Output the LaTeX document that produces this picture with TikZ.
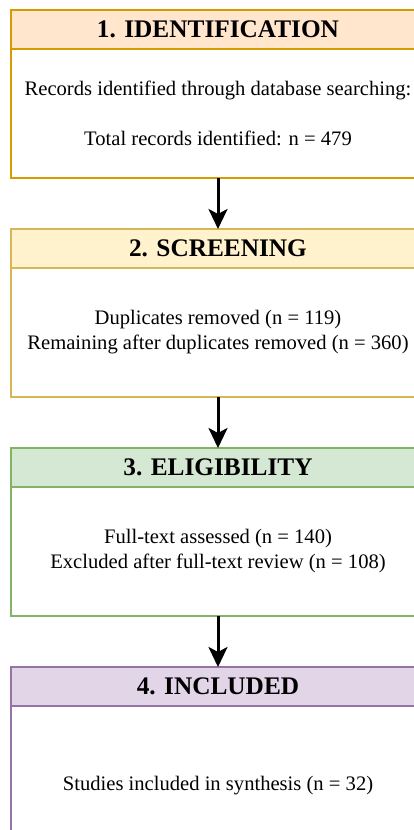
\documentclass[tikz,border=0pt]{standalone}
\usepackage{fontspec}
\setmainfont{Liberation Serif}
\usetikzlibrary{arrows.meta, positioning}

\definecolor{idfill}{HTML}{FFE6CC}
\definecolor{idline}{HTML}{D79B00}
\definecolor{scrfill}{HTML}{FFF2CC}
\definecolor{scrline}{HTML}{D6B656}
\definecolor{elfill}{HTML}{D5E8D4}
\definecolor{elline}{HTML}{82B366}
\definecolor{incfill}{HTML}{E1D5E7}
\definecolor{incline}{HTML}{9673A6}

\begin{document}
\begin{tikzpicture}[
    stagehead/.style={draw, line width=1.3pt, minimum width=414pt, minimum height=39pt, inner sep=0pt,
      outer sep=0pt, font=\bfseries\fontsize{25.3}{30}\selectfont},
    stagebody/.style={draw, line width=1.3pt, minimum width=414pt, minimum height=129pt, inner sep=0pt,
      outer sep=0pt, align=center, font=\fontsize{20.6}{25}\selectfont, fill=white},
    flow/.style={line width=3pt, -{Stealth[length=20pt, width=19pt, inset=5pt]}}
  ]
\clip (0,0) rectangle (414pt,-830pt);
\fill[white] (0,0) rectangle (414pt,-830pt);
%
\node[stagehead, fill=idfill, draw=idline, anchor=north] (idhead) at (218pt,-10pt) {1. IDENTIFICATION};
\node[stagebody, draw=idline, below=0pt of idhead] (idbody)
  {Records identified through database searching:\\[25pt]Total records identified: n = 479};
%
\node[stagehead, fill=scrfill, draw=scrline, below=51pt of idbody] (scrhead) {2. SCREENING};
\node[stagebody, draw=scrline, below=0pt of scrhead] (scrbody)
  {Duplicates removed (n = 119)\\Remaining after duplicates removed (n = 360)};
%
\node[stagehead, fill=elfill, draw=elline, below=51pt of scrbody] (elhead) {3. ELIGIBILITY};
\node[stagebody, draw=elline, below=0pt of elhead] (elbody)
  {Full-text assessed (n = 140)\\Excluded after full-text review (n = 108)};
%
\node[stagehead, fill=incfill, draw=incline, below=51pt of elbody] (inchead) {4. INCLUDED};
\node[stagebody, draw=incline, minimum height=160pt, below=0pt of inchead] (incbody)
  {Studies included in synthesis (n = 32)};
% arrows between the stages
\draw[flow] (idbody) -- (scrhead);
\draw[flow] (scrbody) -- (elhead);
\draw[flow] (elbody) -- (inchead);
\end{tikzpicture}
\end{document}
